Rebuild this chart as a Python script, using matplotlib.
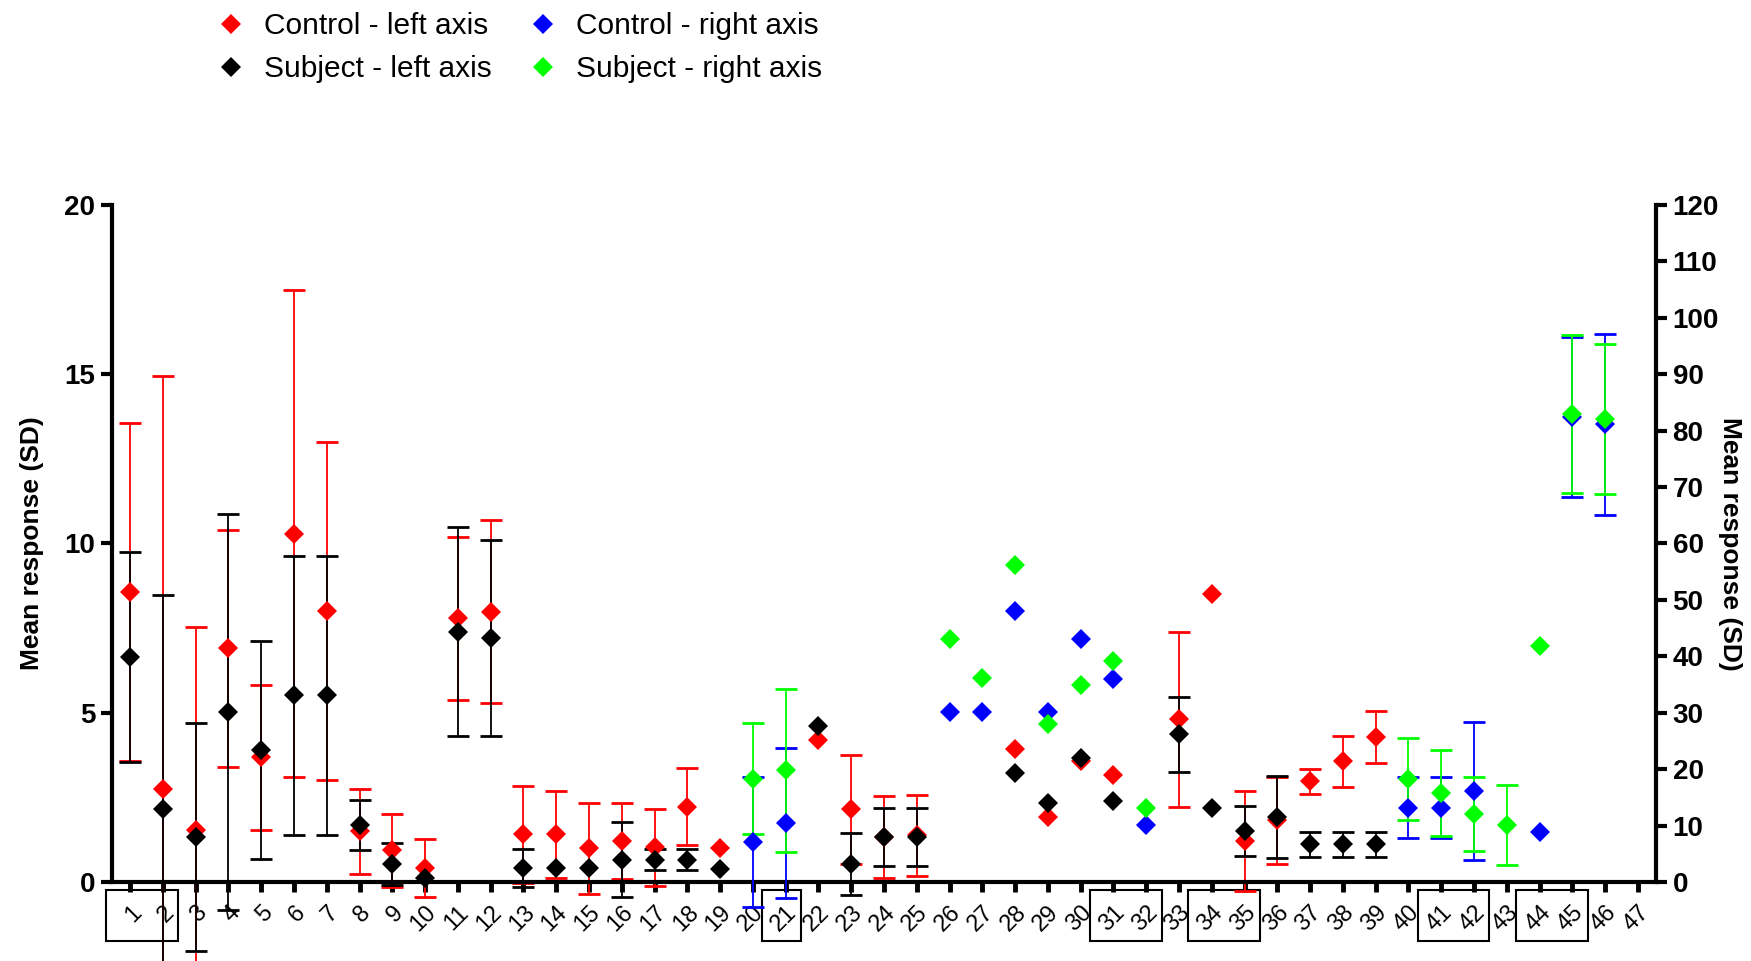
import numpy as np
import matplotlib
matplotlib.use("Agg")
import matplotlib.pyplot as plt
import matplotlib.transforms as mtransforms
from matplotlib.lines import Line2D
from matplotlib.patches import Rectangle

plt.rcParams['font.family'] = ['Liberation Sans', 'DejaVu Sans']

nan = np.nan

# item numbers on the x axis
items = list(range(1, 48))

# left axis (SD units): control group
control_left_x = [1, 2, 3, 4, 5, 6, 7, 8, 9, 10, 11, 12, 13, 14, 15, 16, 17, 18, 19,
                  22, 23, 24, 25, 28, 29, 30, 31, 33, 34, 35, 36, 37, 38, 39]
control_left_mean = [8.56, 2.76, 1.54, 6.91, 3.68, 10.29, 8.01, 1.50, 0.94, 0.41, 7.79, 7.99,
                     1.41, 1.41, 1.00, 1.21, 1.03, 2.23, 1.01,
                     4.20, 2.15, 1.33, 1.38, 3.94, 1.93, 3.57, 3.17, 4.81, 8.51, 1.21, 1.82,
                     2.97, 3.56, 4.28]
control_left_sd = [5.0, 12.2, 6.0, 3.5, 2.15, 7.2, 5.0, 1.25, 1.08, 0.85, 2.4, 2.69,
                   1.44, 1.28, 1.34, 1.12, 1.14, 1.15, nan,
                   nan, 1.61, 1.22, 1.20, nan, nan, nan, nan, 2.58, nan, 1.49, 1.28,
                   0.36, 0.74, 0.77]

# left axis (SD units): subject
subject_left_x = [1, 2, 3, 4, 5, 6, 7, 8, 9, 10, 11, 12, 13, 14, 15, 16, 17, 18, 19,
                  22, 23, 24, 25, 28, 29, 30, 31, 33, 34, 35, 36, 37, 38, 39]
subject_left_mean = [6.65, 2.16, 1.32, 5.03, 3.90, 5.51, 5.51, 1.68, 0.53, 0.12, 7.40, 7.21,
                     0.41, 0.41, 0.41, 0.66, 0.66, 0.66, 0.39,
                     4.61, 0.54, 1.33, 1.33, 3.23, 2.32, 3.65, 2.40, 4.36, 2.18, 1.51, 1.92,
                     1.11, 1.11, 1.11]
subject_left_sd = [3.11, 6.33, 3.37, 5.85, 3.22, 4.12, 4.12, 0.74, 0.62, nan, 3.10, 2.90,
                   0.56, nan, nan, 1.11, 0.31, 0.31, nan,
                   nan, 0.92, 0.85, 0.85, nan, nan, nan, nan, 1.10, nan, 0.74, 1.20,
                   0.36, 0.36, 0.36]

# right axis (SD units): control group
control_right_x = [20, 21, 26, 27, 28, 29, 30, 31, 32, 40, 41, 42, 44, 45, 46]
control_right_mean = [7.1, 10.5, 30.1, 30.1, 48.0, 30.1, 43.1, 36.0, 10.1,
                      13.2, 13.2, 16.1, 8.9, 82.4, 81.1]
control_right_sd = [11.5, 13.3, nan, nan, nan, nan, nan, nan, nan,
                    5.35, 5.35, 12.2, nan, 14.2, 16.1]

# right axis (SD units): subject
subject_right_x = [20, 21, 26, 27, 28, 29, 30, 31, 32, 40, 41, 42, 43, 44, 45, 46]
subject_right_mean = [18.3, 19.8, 43.1, 36.1, 56.1, 28.0, 35.0, 39.1, 13.1,
                      18.3, 15.8, 12.1, 10.1, 41.9, 83.0, 82.0]
subject_right_sd = [9.8, 14.4, nan, nan, nan, nan, nan, nan, nan,
                    7.3, 7.6, 6.6, 7.1, nan, 14.0, 13.3]

# groups of items outlined under the axis
boxed_groups = [(1, 2), (21, 21), (31, 32), (34, 35), (41, 42), (44, 45)]

fig = plt.figure(figsize=(17.51, 9.61), dpi=100)
ax = fig.add_axes([0.064, 0.0822, 0.8817, 0.7045])
ax2 = ax.twinx()

bar_kw = dict(fmt='D', ms=10.5, capsize=8, elinewidth=1.3, capthick=2.0)


def draw_series(axis, x, mean, sd, color):
    cont = axis.errorbar(x, mean, yerr=sd, color=color, ecolor=color, **bar_kw)
    cont.lines[0].set_markeredgewidth(0)
    cont.lines[0].set_clip_on(False)
    for art in cont.lines[1]:
        art.set_clip_on(False)
    for art in cont.lines[2]:
        art.set_clip_on(False)
    return cont


draw_series(ax, control_left_x, control_left_mean, control_left_sd, '#ff0000')
draw_series(ax, subject_left_x, subject_left_mean, subject_left_sd, '#000000')
draw_series(ax2, control_right_x, control_right_mean, control_right_sd, '#0000ff')
draw_series(ax2, subject_right_x, subject_right_mean, subject_right_sd, '#00ff00')

ax.set_xlim(0.45, 47.55)
ax.set_ylim(0, 20)
ax2.set_ylim(0, 120)

ax.set_yticks(np.arange(0, 21, 5))
ax2.set_yticks(np.arange(0, 121, 10))
ax.set_xticks(items)
ax.set_xticklabels([str(i) for i in items], rotation=45, ha='right', va='top',
                   rotation_mode='anchor', fontsize=17)

for a in (ax, ax2):
    a.spines['top'].set_visible(False)
    for s in a.spines.values():
        s.set_linewidth(3)
ax.spines['right'].set_visible(False)
ax2.spines['left'].set_visible(False)
ax2.spines['bottom'].set_visible(False)

ax.tick_params(axis='y', direction='out', length=8, width=3, labelsize=20, pad=4)
ax2.tick_params(axis='y', direction='out', length=8, width=3, labelsize=20, pad=4)
ax.tick_params(axis='x', direction='out', length=7, width=3.5, pad=7)
for lab in ax.get_yticklabels() + ax2.get_yticklabels():
    lab.set_fontweight('bold')

ax.set_ylabel('Mean response (SD)', fontsize=19, fontweight='bold', va='center')
ax.yaxis.set_label_coords(-0.052, 0.5)
ax2.set_ylabel('Mean response (SD)', fontsize=19, fontweight='bold', rotation=270,
               va='center')
ax2.yaxis.set_label_coords(1.048, 0.5)

# outline boxes around grouped item labels
trans = mtransforms.blended_transform_factory(ax.transData, ax.transAxes)
for start, end in boxed_groups:
    ax.add_patch(Rectangle((start - 0.72, -0.087), (end - start) + 1.19, 0.075,
                           transform=trans, fill=False, edgecolor='black',
                           linewidth=1.5, clip_on=False))

handles = [
    Line2D([], [], marker='D', ls='none', ms=10.5, mew=0, color='#ff0000'),
    Line2D([], [], marker='D', ls='none', ms=10.5, mew=0, color='#000000'),
    Line2D([], [], marker='D', ls='none', ms=10.5, mew=0, color='#0000ff'),
    Line2D([], [], marker='D', ls='none', ms=10.5, mew=0, color='#00ff00'),
]
labels = ['Control - left axis', 'Subject - left axis',
          'Control - right axis', 'Subject - right axis']
fig.legend(handles, labels, loc='upper left', bbox_to_anchor=(0.1234, 0.987), ncol=2,
           frameon=False, fontsize=21.5, handlelength=1.0, handletextpad=0.62,
           columnspacing=1.2, labelspacing=0.5, borderpad=0, borderaxespad=0)

fig.savefig('out.png', dpi=100)
